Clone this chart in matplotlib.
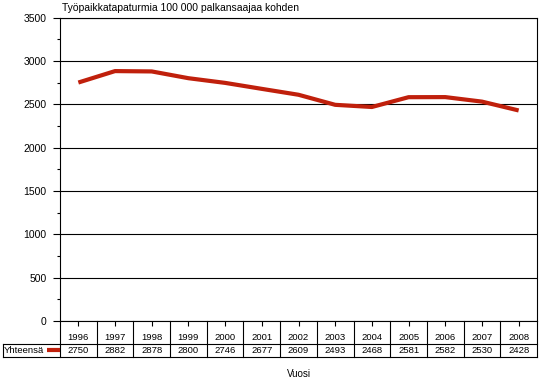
import matplotlib
matplotlib.use("Agg")
import matplotlib.pyplot as plt
import matplotlib.transforms as mtransforms
from matplotlib.lines import Line2D
from matplotlib.ticker import MultipleLocator

plt.rcParams['font.family'] = ['Liberation Sans', 'DejaVu Sans']

years = ["1996", "1997", "1998", "1999", "2000", "2001", "2002",
         "2003", "2004", "2005", "2006", "2007", "2008"]
values = [2750, 2882, 2878, 2800, 2746, 2677, 2609, 2493, 2468, 2581, 2582, 2530, 2428]
series_name = "Yhteensä"
title = "Työpaikkatapaturmia 100 000 palkansaajaa kohden"
xlabel = "Vuosi"

W, H = 539, 382
red = "#C0200C"
fig = plt.figure(figsize=(W / 100, H / 100), dpi=100)

# plot area in pixel units
left, right, top, bottom = 60, 537, 17.5, 321
ax = fig.add_axes([left / W, 1 - bottom / H, (right - left) / W, (bottom - top) / H])

x = list(range(len(years)))
ax.plot(x, values, color=red, lw=3.0, solid_capstyle='butt', zorder=3)

ax.set_xlim(-0.5, len(years) - 0.5)
ax.set_ylim(0, 3500)
ax.yaxis.set_major_locator(MultipleLocator(500))
ax.yaxis.set_minor_locator(MultipleLocator(250))
ax.grid(axis='y', which='major', color='black', lw=0.8)
ax.set_axisbelow(True)
ax.tick_params(axis='y', which='major', length=5, width=0.8, labelsize=7.5, pad=4.5)
ax.tick_params(axis='y', which='minor', length=2.2, width=0.8)
ax.set_xticks(x)
ax.tick_params(axis='x', length=3.6, width=0.8, labelbottom=False)
for s in ax.spines.values():
    s.set_linewidth(0.8)

fy = lambda py: 1 - py / H
tr = mtransforms.blended_transform_factory(ax.transData, fig.transFigure)
lw = 0.8

# table under the plot
row1, row2, row3 = bottom, 343.5, 357
fig.add_artist(Line2D([3 / W, right / W], [fy(row2), fy(row2)], transform=fig.transFigure, color='black', lw=lw))
fig.add_artist(Line2D([3 / W, right / W], [fy(row3), fy(row3)], transform=fig.transFigure, color='black', lw=lw))
fig.add_artist(Line2D([3 / W, 3 / W], [fy(row2), fy(row3)], transform=fig.transFigure, color='black', lw=lw))
for i in range(len(years) + 1):
    xb = i - 0.5
    fig.add_artist(Line2D([xb, xb], [fy(row1), fy(row3)], transform=tr, color='black', lw=lw))
for i, (yr, v) in enumerate(zip(years, values)):
    fig.text(i, fy(337), yr, transform=tr, ha='center', va='center', fontsize=6.8)
    fig.text(i, fy(350.5), str(v), transform=tr, ha='center', va='center', fontsize=6.8)

fig.text(4 / W, fy(350.5), series_name, ha='left', va='center', fontsize=6.8)
fig.add_artist(Line2D([46.5 / W, 59.5 / W], [fy(350), fy(350)], transform=fig.transFigure, color=red, lw=3.0, solid_capstyle='butt'))

fig.text(62 / W, fy(8), title, ha='left', va='center', fontsize=7.5)
fig.text((left + right) / 2 / W, fy(374), xlabel, ha='center', va='center', fontsize=7)

fig.savefig("out.png", dpi=100)
